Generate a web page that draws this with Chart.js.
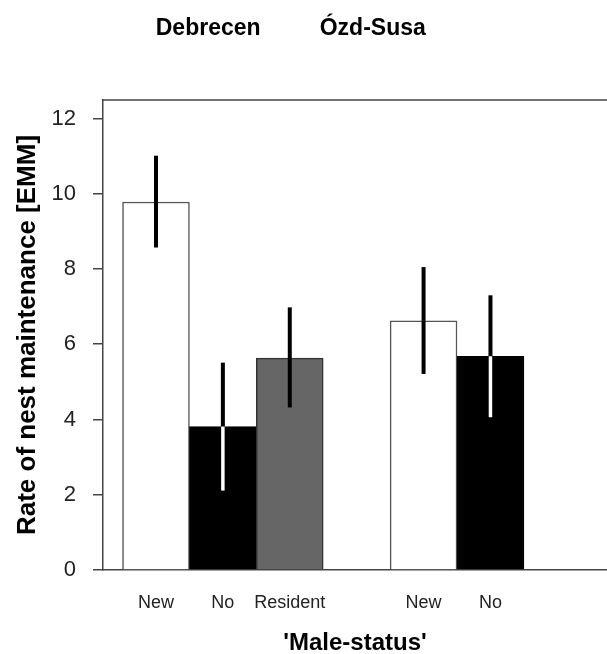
<!DOCTYPE html>
<html>
<head>
<meta charset="utf-8">
<script src="https://cdn.jsdelivr.net/npm/chart.js@4.4.1/dist/chart.umd.min.js"></script>
<style>
  html, body { margin: 0; padding: 0; background: #ffffff; }
  #wrap { width: 607px; height: 654px; }
</style>
</head>
<body>
<div id="wrap"><canvas id="c" width="607" height="654"></canvas></div>
<script>
// ---- data ----
const sites = ['Debrecen', 'Debrecen', 'Debrecen', 'Ózd-Susa', 'Ózd-Susa'];
const categories = ['New', 'No', 'Resident', 'New', 'No'];
const meanValues = [9.78, 3.81, 5.63, 6.62, 5.68];
const errorLow = [8.57, 2.11, 4.32, 5.21, 4.06];
const errorHigh = [11.01, 5.51, 6.98, 8.05, 7.30];
const groupLabels = ['Debrecen', 'Ózd-Susa'];
const yTicks = [0, 2, 4, 6, 8, 10, 12];

// ---- styles ----
const fillColors = { 'New': '#ffffff', 'No': '#000000', 'Resident': '#666666' };
const borderColors = { 'New': '#555555', 'No': '#000000', 'Resident': '#333333' };
const lowerErrColors = { 'New': '#000000', 'No': '#ffffff', 'Resident': '#000000' };

// slot positions derived from grouping (one empty slot between sites)
const xPos = [];
{
  let gap = 0;
  for (let i = 0; i < sites.length; i++) {
    if (i > 0 && sites[i] !== sites[i - 1]) gap++;
    xPos.push(i + 1 + gap);
  }
}

const FONT = "'Liberation Sans', Arial, Helvetica, sans-serif";
Chart.defaults.font.family = FONT;
Chart.defaults.color = '#000000';

const errorBarPlugin = {
  id: 'errorBars',
  afterDatasetsDraw(chart) {
    const ctx = chart.ctx;
    const xs = chart.scales.x, ys = chart.scales.y;
    ctx.save();
    ctx.lineCap = 'butt';
    for (let i = 0; i < meanValues.length; i++) {
      const x = xs.getPixelForValue(xPos[i]);
      const yl = ys.getPixelForValue(errorLow[i]);
      const ym = ys.getPixelForValue(meanValues[i]);
      const yh = ys.getPixelForValue(errorHigh[i]);
      ctx.lineWidth = 4;
      ctx.strokeStyle = '#000000';
      ctx.beginPath(); ctx.moveTo(x, ym); ctx.lineTo(x, yh); ctx.stroke();
      ctx.strokeStyle = lowerErrColors[categories[i]];
      ctx.lineWidth = lowerErrColors[categories[i]] === '#ffffff' ? 3.5 : 4;
      ctx.beginPath(); ctx.moveTo(x, yl); ctx.lineTo(x, ym); ctx.stroke();
    }
    ctx.restore();
  }
};

const framePlugin = {
  id: 'frame',
  afterDraw(chart) {
    const ctx = chart.ctx;
    const a = chart.chartArea;
    ctx.save();
    ctx.strokeStyle = '#444444';
    ctx.lineWidth = 1.5;
    ctx.beginPath();
    ctx.moveTo(a.left, a.top);
    ctx.lineTo(chart.width, a.top);
    ctx.stroke();
    // group labels
    ctx.fillStyle = '#000000';
    ctx.font = 'bold 23px ' + FONT;
    ctx.textAlign = 'center';
    ctx.textBaseline = 'alphabetic';
    const xs = chart.scales.x;
    const labelX = [1.78, 4.24];
    groupLabels.forEach((g, k) => {
      ctx.fillText(g, xs.getPixelForValue(labelX[k]), 35);
    });
    ctx.restore();
  }
};

new Chart(document.getElementById('c'), {
  type: 'bar',
  data: {
    datasets: [{
      data: meanValues.map((v, i) => ({ x: xPos[i], y: v })),
      backgroundColor: categories.map(c => fillColors[c]),
      borderColor: categories.map(c => borderColors[c]),
      borderWidth: 1.5,
      borderSkipped: 'bottom',
      barPercentage: 1,
      categoryPercentage: 1
    }]
  },
  options: {
    responsive: false,
    animation: false,
    events: [],
    layout: { padding: { top: 100, right: 0, left: 0, bottom: 0 } },
    plugins: { legend: { display: false }, tooltip: { enabled: false }, title: { display: false } },
    scales: {
      x: {
        type: 'linear',
        offset: false,
        min: 0.208,
        max: 7.742,
        grid: { display: false, drawTicks: false },
        border: { display: true, color: '#444444', width: 1.5 },
        afterBuildTicks(scale) { scale.ticks = xPos.map(v => ({ value: v })); },
        afterFit(scale) { scale.height = 84; },
        ticks: {
          autoSkip: false,
          maxRotation: 0,
          padding: 22,
          font: { size: 18 },
          color: '#222222',
          callback(value) { const i = xPos.indexOf(value); return i >= 0 ? categories[i] : ''; }
        },
        title: {
          display: true,
          text: "'Male-status'",
          font: { size: 24, weight: 'bold', lineHeight: 0.92 },
          padding: { top: 0, bottom: 0 },
          color: '#000000'
        }
      },
      y: {
        min: 0,
        max: 12.49,
        afterBuildTicks(scale) { scale.ticks = yTicks.map(v => ({ value: v })); },
        afterFit(scale) { scale.width = 103; },
        grid: { drawOnChartArea: false, drawTicks: true, tickLength: 10, color: '#444444', lineWidth: 1.5 },
        border: { display: true, color: '#444444', width: 1.5 },
        ticks: { padding: 17, font: { size: 22 }, color: '#222222' },
        title: {
          display: true,
          text: 'Rate of nest maintenance [EMM]',
          font: { size: 26, weight: 'bold' },
          padding: { top: 12, bottom: 0 },
          color: '#000000'
        }
      }
    }
  },
  plugins: [errorBarPlugin, framePlugin]
});
</script>
</body>
</html>
